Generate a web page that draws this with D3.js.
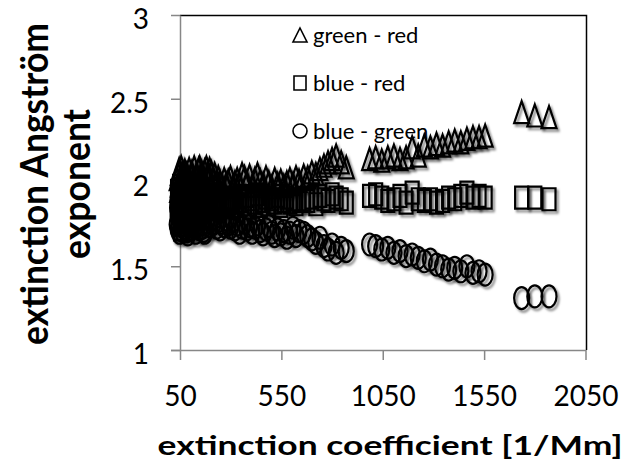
<!DOCTYPE html>
<html>
<head>
<meta charset="utf-8">
<script src="https://cdn.jsdelivr.net/npm/d3@7"></script>
<style>
  body { margin: 0; background: #fff; }
  svg { display: block; font-family: Lato, "Open Sans", sans-serif; }
</style>
</head>
<body>
<svg width="641" height="463"></svg>
<script>
// extinction coefficient [1/Mm]
const extinction = [
    36, 38, 41, 43, 46, 48, 51, 53, 56, 58, 61, 63, 66, 68, 71, 74, 77, 80, 83, 86,
    89, 92, 95, 98, 101, 104, 108, 112, 116, 120, 124, 128, 132, 137, 142, 147, 152, 157, 162, 167,
    172, 180, 188, 196, 204, 212, 221, 230, 239, 248, 258, 268, 278, 288, 299, 310, 321, 332, 344, 356,
    368, 380, 393, 406, 419, 432, 446, 460, 474, 488, 502, 517, 532, 547, 562, 577, 592, 607, 622, 637,
    660, 680, 700, 720, 740, 760, 780, 800, 820, 845, 870,
    985, 1015, 1045, 1075, 1105, 1135, 1165, 1195, 1225, 1255, 1285, 1315, 1345, 1375, 1405, 1435, 1465, 1495, 1525, 1555,
    1735, 1800, 1870
];

// Angstrom exponents per wavelength pair
const greenRed = [
    2.02, 1.95, 2.05, 1.98, 2.08, 2.00, 1.93, 2.03, 2.09, 1.97, 2.01, 2.06, 1.94, 2.04, 1.99, 2.07, 2.02, 1.96, 2.05, 2.00,
    2.03, 1.98, 2.08, 2.01, 1.95, 2.04, 2.06, 1.99, 2.02, 2.09, 1.97, 2.03, 2.05, 2.00, 2.08, 2.09, 2.02, 2.06, 2.04, 2.01,
    2.07, 2.09, 2.04, 2.08, 2.06, 2.02, 2.05, 1.99, 2.03, 2.00, 1.98, 2.02, 1.99, 2.01, 2.03, 1.97, 2.00, 2.02, 1.99, 2.05,
    2.03, 2.00, 2.04, 1.98, 2.02, 2.05, 2.01, 1.99, 2.03, 2.00, 1.97, 2.02, 1.99, 2.01, 1.98, 2.00, 2.02, 1.99, 2.03, 2.01,
    2.04, 2.03, 2.06, 2.05, 2.08, 2.10, 2.12, 2.14, 2.16, 2.12, 2.09,
    2.14, 2.15, 2.13, 2.15, 2.16, 2.14, 2.15, 2.21, 2.16, 2.22, 2.21, 2.23, 2.22, 2.24, 2.25, 2.24, 2.26, 2.27, 2.27, 2.28,
    2.42, 2.40, 2.39
];
const blueRed = [
    1.85, 1.95, 1.78, 1.90, 1.82, 1.98, 1.88, 1.72, 1.93, 1.86, 1.80, 1.96, 1.89, 1.75, 1.92, 1.87, 1.79, 1.94, 1.83, 1.91,
    1.88, 1.97, 1.81, 1.90, 1.76, 1.93, 1.85, 1.89, 1.78, 1.95, 1.87, 1.82, 1.91, 1.86, 1.93, 1.84, 1.89, 1.92, 1.80, 1.88,
    1.90, 1.86, 1.92, 1.88, 1.84, 1.91, 1.87, 1.89, 1.85, 1.90, 1.88, 1.86, 1.91, 1.87, 1.89, 1.90, 1.88, 1.86, 1.91, 1.89,
    1.87, 1.92, 1.85, 1.90, 1.88, 1.93, 1.86, 1.89, 1.91, 1.87, 1.90, 1.88, 1.92, 1.86, 1.89, 1.91, 1.88, 1.90, 1.87, 1.89,
    1.90, 1.89, 1.91, 1.87, 1.92, 1.90, 1.89, 1.93, 1.91, 1.90, 1.88,
    1.92, 1.93, 1.91, 1.89, 1.90, 1.92, 1.88, 1.94, 1.90, 1.89, 1.90, 1.88, 1.89, 1.91, 1.90, 1.92, 1.94, 1.91, 1.92, 1.91,
    1.91, 1.91, 1.90
];
const blueGreen = [
    1.75, 1.85, 1.72, 1.80, 1.88, 1.70, 1.78, 1.83, 1.74, 1.86, 1.79, 1.71, 1.82, 1.76, 1.84, 1.73, 1.80, 1.77, 1.81, 1.71,
    1.69, 1.78, 1.74, 1.82, 1.76, 1.72, 1.79, 1.75, 1.81, 1.73, 1.77, 1.70, 1.78, 1.74, 1.76, 1.72, 1.79, 1.75, 1.73, 1.71,
    1.70, 1.76, 1.80, 1.74, 1.78, 1.75, 1.79, 1.73, 1.77, 1.72, 1.76, 1.74, 1.78, 1.75, 1.73, 1.77, 1.72, 1.75, 1.70, 1.73,
    1.76, 1.72, 1.74, 1.70, 1.73, 1.75, 1.71, 1.69, 1.72, 1.74, 1.70, 1.68, 1.72, 1.69, 1.71, 1.67, 1.70, 1.73, 1.68, 1.71,
    1.70, 1.68, 1.66, 1.64, 1.67, 1.62, 1.60, 1.63, 1.58, 1.61, 1.59,
    1.63, 1.62, 1.60, 1.61, 1.58, 1.59, 1.56, 1.57, 1.55, 1.53, 1.54, 1.51, 1.50, 1.48, 1.49, 1.47, 1.50, 1.46, 1.47, 1.45,
    1.31, 1.32, 1.32
];

const seriesNames = ["green - red", "blue - red", "blue - green"];
const seriesShapes = ["triangle", "square", "circle"];
const xTicks = [50, 550, 1050, 1550, 2050];
const yTicks = [1, 1.5, 2, 2.5, 3];

const series = [greenRed, blueRed, blueGreen].map((vals, i) => ({
    name: seriesNames[i],
    shape: seriesShapes[i],
    points: vals.map((v, j) => ({ x: extinction[j], y: v }))
}));

const svg = d3.select("svg"),
    plotLeft = 180, plotRight = 586, plotTop = 15, plotBottom = 350;

const x = d3.scaleLinear().domain([50, 2050]).range([plotLeft, 585.5]),
    y = d3.scaleLinear().domain([1, 3]).range([plotBottom, plotTop]);

// marker shadow
const defs = svg.append("defs");
defs.append("filter")
    .attr("id", "shadow")
    .attr("x", "-50%").attr("y", "-50%")
    .attr("width", "200%").attr("height", "200%")
    .append("feDropShadow")
    .attr("dx", 2).attr("dy", 2.5)
    .attr("stdDeviation", 1.1)
    .attr("flood-color", "#000")
    .attr("flood-opacity", 0.5);

// plot area border (top + right)
svg.append("path")
    .attr("d", `M${plotLeft},${plotTop + 0.5}H${plotRight + 0.5}V${plotBottom}`)
    .attr("fill", "none")
    .attr("stroke", "#000")
    .attr("stroke-width", 1.5);

// axes
const xAxis = svg.append("g")
    .attr("transform", `translate(0,${plotBottom})`)
    .call(d3.axisBottom(x).tickValues(xTicks).tickSize(10).tickSizeOuter(0).tickFormat(d3.format("d")));

const yAxis = svg.append("g")
    .attr("transform", `translate(${plotLeft},0)`)
    .call(d3.axisLeft(y).tickValues(yTicks).tickSize(9).tickSizeOuter(0).tickPadding(22).tickFormat(d => d));

[xAxis, yAxis].forEach(a => {
    a.selectAll("path, line").attr("stroke", "#878787").attr("stroke-width", 1.5);
    a.selectAll("text")
        .attr("fill", "#000")
        .style("font-family", "Lato, 'Open Sans', sans-serif")
        .style("font-size", "28px");
});
xAxis.select(".domain").attr("d", `M${plotLeft - 9},0.5H${plotRight}`);
xAxis.selectAll("text").attr("y", 56).attr("dy", null);
yAxis.selectAll("text").attr("dy", "0.48em");

// markers
const W = 15, H = 22;
function shapePath(shape, w, h) {
    if (shape === "triangle") return `M0,${-h / 2}L${w / 2},${h / 2}L${-w / 2},${h / 2}Z`;
    if (shape === "square") return `M${-w / 2 + 1},${-h / 2}h${w - 2}v${h}h${-(w - 2)}Z`;
    const rx = w / 2, ry = h / 2;
    return `M${-rx},0A${rx},${ry} 0 1,0 ${rx},0A${rx},${ry} 0 1,0 ${-rx},0Z`;
}

series.forEach(s => {
    svg.append("g")
        .attr("class", "series")
        .selectAll("path")
        .data(s.points)
        .enter().append("path")
        .attr("d", shapePath(s.shape, W, H))
        .attr("transform", d => `translate(${x(d.x)},${y(d.y)})`)
        .attr("fill", "none")
        .attr("stroke", "#000")
        .attr("stroke-width", 2.2)
        .attr("filter", "url(#shadow)");
});

// legend
const legend = svg.append("g").attr("transform", "translate(300,0)");
const legendY = [35, 83, 131];
series.forEach((s, i) => {
    legend.append("path")
        .attr("d", shapePath(s.shape, 14, 14))
        .attr("transform", `translate(0,${legendY[i]})`)
        .attr("fill", "none")
        .attr("stroke", "#000")
        .attr("stroke-width", 1.6);
    legend.append("text")
        .attr("x", 13)
        .attr("y", legendY[i] + 8)
        .style("font-size", "22px")
        .text(s.name);
});

// axis titles
svg.append("text")
    .attr("x", 390)
    .attr("y", 455)
    .attr("text-anchor", "middle")
    .attr("textLength", 465)
    .attr("lengthAdjust", "spacingAndGlyphs")
    .style("font-weight", "bold")
    .style("font-size", "26px")
    .text("extinction coefficient [1/Mm]");

const yTitle = svg.append("g").attr("transform", "translate(0,184) rotate(-90)");
yTitle.append("text")
    .attr("x", 0).attr("y", 48)
    .attr("text-anchor", "middle")
    .attr("textLength", 322)
    .attr("lengthAdjust", "spacingAndGlyphs")
    .style("font-weight", "bold")
    .style("font-size", "38px")
    .text("extinction Angström");
yTitle.append("text")
    .attr("x", 0).attr("y", 90)
    .attr("text-anchor", "middle")
    .attr("textLength", 150)
    .attr("lengthAdjust", "spacingAndGlyphs")
    .style("font-weight", "bold")
    .style("font-size", "38px")
    .text("exponent");
</script>
</body>
</html>
